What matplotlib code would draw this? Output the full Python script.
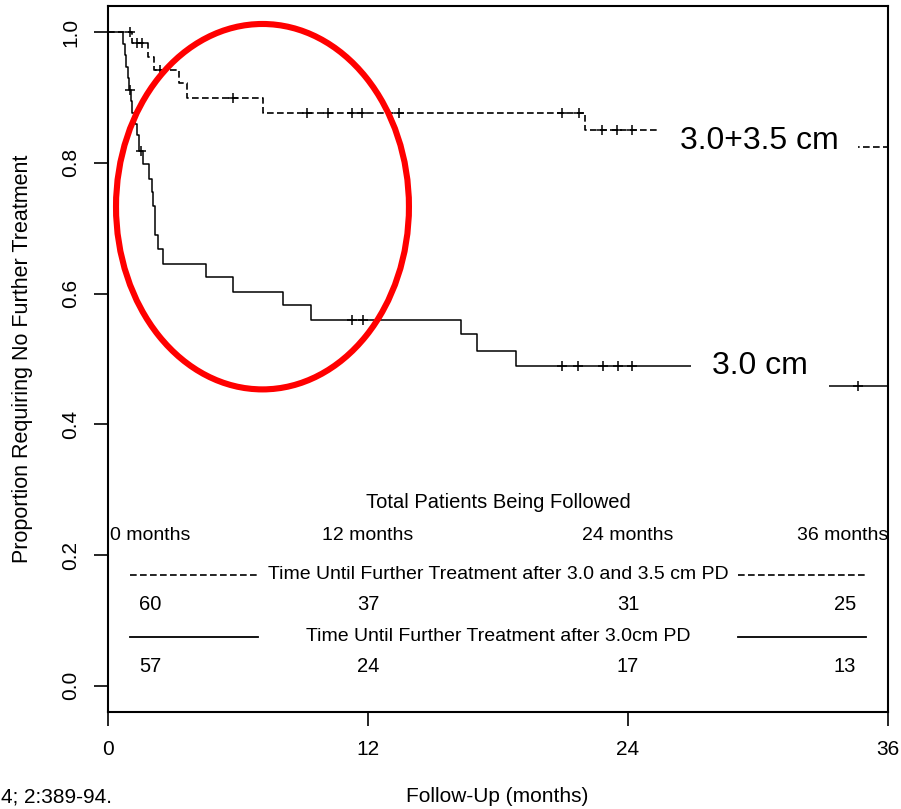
import numpy as np
import matplotlib
matplotlib.use("Agg")
import matplotlib.pyplot as plt
from matplotlib.patches import Ellipse

plt.rcParams['font.family'] = ['Liberation Sans', 'DejaVu Sans']

# Kaplan-Meier steps (months, proportion)
solid_t = [0, 0.69, 0.78, 0.85, 0.92, 0.97, 1.05, 1.12, 1.25, 1.35, 1.45, 1.62, 1.89,
           2.03, 2.08, 2.17, 2.31, 2.54, 4.52, 5.77, 8.08, 9.37, 16.29, 17.03, 18.83, 33.1]
solid_s = [1.0, 0.982, 0.965, 0.947, 0.930, 0.912, 0.895, 0.877, 0.860, 0.842, 0.818, 0.798, 0.776,
           0.755, 0.734, 0.689, 0.669, 0.646, 0.625, 0.603, 0.582, 0.560, 0.538, 0.513, 0.490, 0.458]
solid_cens = [1.0, 1.52, 11.26, 11.77, 20.95, 21.69, 22.84, 23.53, 24.18, 34.6]

dashed_t = [0, 1.11, 1.85, 2.12, 3.28, 3.65, 7.15, 22.01, 30.0]
dashed_s = [1.0, 0.983, 0.962, 0.942, 0.922, 0.899, 0.877, 0.851, 0.824]
dashed_cens = [1.0, 1.34, 1.57, 2.4, 5.77, 9.18, 10.15, 11.26, 11.72, 13.43,
               20.95, 21.74, 22.8, 23.49, 24.2]

# at-risk table
table_months = [0, 12, 24, 36]
table_month_labels = ["0 months", "12 months", "24 months", "36 months"]
at_risk_dashed = [60, 37, 31, 25]
at_risk_solid = [57, 24, 17, 13]
at_risk_x = [1.94, 12, 24, 34.0]

W, H = 901, 809
fig = plt.figure(figsize=(W / 100, H / 100), dpi=100)
ax = fig.add_axes([108 / W, 1 - 712 / H, 780 / W, 706 / H])
ax.set_xlim(0, 36)
ax.set_ylim(-0.04, 1.04)


def step_val(ts, ss, x):
    i = np.searchsorted(ts, x, side='right') - 1
    return np.array(ss)[i]


def km(ts, ss, cens, lw=1.1, **kw):
    t = np.append(ts, 36)
    s = np.append(ss, ss[-1])
    ax.step(t, s, where='post', color='black', lw=lw, zorder=2, **kw)
    ax.plot(cens, step_val(ts, ss, cens), ls='none', marker='+', ms=7,
            mew=1.1, color='black', zorder=2)


km(solid_t, solid_s, solid_cens)
km(dashed_t, dashed_s, dashed_cens, lw=1.2, dashes=(4, 2))

# curve labels (white box hides the line underneath)
ax.text(30.05, 0.833, "3.0+3.5 cm", fontsize=23, ha='center', va='center', zorder=5,
        bbox=dict(boxstyle='square,pad=0.62', fc='white', ec='none'))
ax.text(30.08, 0.490, "3.0 cm", fontsize=23, ha='center', va='center', zorder=5,
        bbox=dict(boxstyle='square,pad=0.66', fc='white', ec='none'))

# at-risk table inside the plot
ax.text(18, 0.280, "Total Patients Being Followed", fontsize=14.5, ha='center', va='center')
for m, lab in zip(table_months, table_month_labels):
    ha = 'left' if m == 0 else ('right' if m == 36 else 'center')
    ax.text(m + (0.08 if m == 0 else 0), 0.2297, lab, fontsize=14, ha=ha, va='center')

ax.plot([1.02, 6.92], [0.170, 0.170], color='black', lw=1.2, dashes=(4, 2))
ax.plot([29.08, 34.98], [0.170, 0.170], color='black', lw=1.2, dashes=(4, 2))
ax.text(18, 0.170, "Time Until Further Treatment after 3.0 and 3.5 cm PD", fontsize=14,
        ha='center', va='center')
ax.plot([1.02, 6.92], [0.075, 0.075], color='black', lw=1.3)
ax.plot([29.08, 34.98], [0.075, 0.075], color='black', lw=1.3)
ax.text(18, 0.075, "Time Until Further Treatment after 3.0cm PD", fontsize=14,
        ha='center', va='center')
for x, a, b in zip(at_risk_x, at_risk_dashed, at_risk_solid):
    ax.text(x, 0.124, str(a), fontsize=14.5, ha='center', va='center')
    ax.text(x, 0.029, str(b), fontsize=14.5, ha='center', va='center')

# red highlight ellipse
ax.add_patch(Ellipse((7.13, 0.733), 13.52, 0.559, fill=False, ec='#ff0000', lw=4.4,
                     zorder=6, clip_on=False))

ax.set_xticks([0, 12, 24, 36])
ax.set_yticks([0.0, 0.2, 0.4, 0.6, 0.8, 1.0])
ax.set_yticklabels(["0.0", "0.2", "0.4", "0.6", "0.8", "1.0"], rotation=90, va='center')
ax.tick_params(direction='out', length=10, width=1.2, labelsize=15, pad=10)
for sp in ax.spines.values():
    sp.set_linewidth(1.5)

fig.text(23 / W, 1 - 359 / H, "Proportion Requiring No Further Treatment", rotation=90,
         fontsize=15.5, ha='center', va='center')
fig.text(497 / W, 1 - 797 / H, "Follow-Up (months)", fontsize=15, ha='center', va='center')
fig.text(1 / W, 1 - 797 / H, "4; 2:389-94.", fontsize=15, ha='left', va='center')

fig.savefig("out.png", dpi=100)
